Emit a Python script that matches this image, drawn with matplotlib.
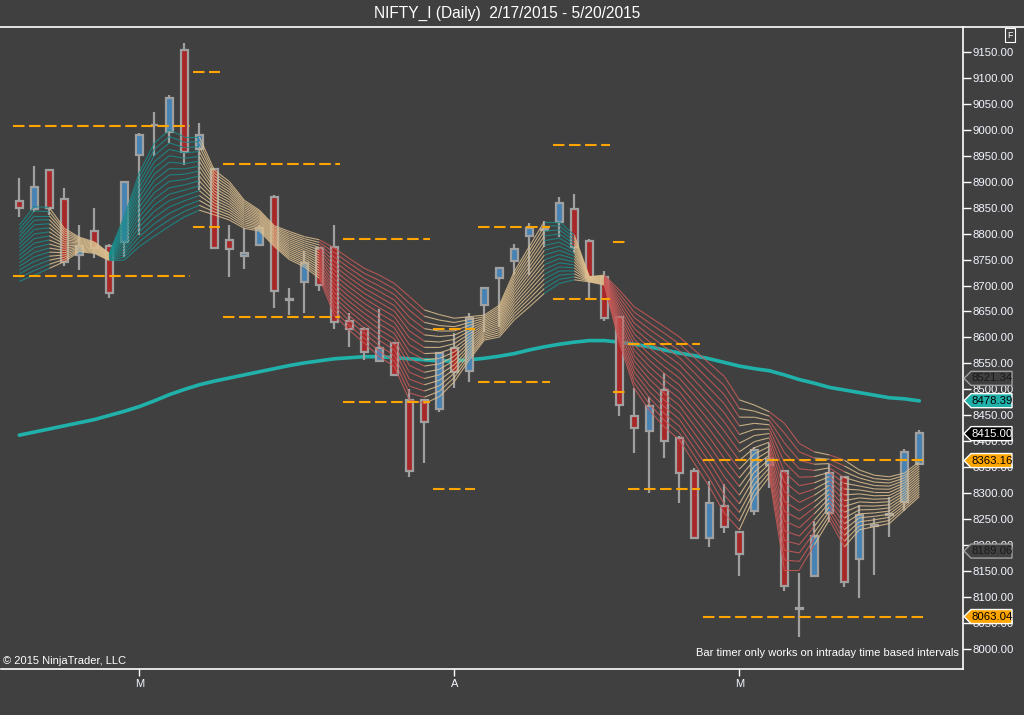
import matplotlib
matplotlib.use('Agg')
import matplotlib.pyplot as plt
from matplotlib.collections import LineCollection
from matplotlib.patches import Polygon
from matplotlib.lines import Line2D

plt.rcParams['font.family'] = ['Liberation Sans', 'DejaVu Sans']

# daily OHLC, one entry per bar (61 bars, 2/17/2015 - 5/20/2015)
opens = [8863, 8847, 8922, 8866, 8758, 8805, 8776, 8784, 8951, 9008,
         8996, 9153, 8962, 8924, 8788, 8757, 8778, 8871, 8672, 8707,
         8772, 8774, 8632, 8616, 8555, 8590, 8480, 8480, 8462, 8580,
         8535, 8662, 8715, 8747, 8795, 8806, 8823, 8847, 8786, 8717,
         8639, 8448, 8420, 8498, 8407, 8344, 8214, 8276, 8226, 8266,
         8355, 8343, 8077, 8141, 8262, 8332, 8174, 8238, 8259, 8284,
         8357]
highs = [8906, 8930, 8924, 8887, 8816, 8850, 8779, 8902, 8994, 9033,
         9066, 9166, 9013, 8927, 8816, 8810, 8816, 8874, 8695, 8767,
         8774, 8816, 8648, 8621, 8654, 8592, 8500, 8482, 8573, 8608,
         8647, 8698, 8735, 8779, 8821, 8824, 8871, 8876, 8789, 8727,
         8641, 8502, 8485, 8531, 8410, 8348, 8323, 8319, 8228, 8390,
         8396, 8345, 8147, 8246, 8356, 8334, 8278, 8252, 8294, 8385,
         8422]
lows = [8832, 8842, 8836, 8738, 8730, 8752, 8675, 8755, 8797, 8949,
        8975, 8932, 8884, 8770, 8717, 8731, 8776, 8656, 8643, 8648,
        8690, 8616, 8581, 8557, 8553, 8525, 8331, 8359, 8456, 8502,
        8515, 8611, 8621, 8720, 8720, 8775, 8794, 8762, 8675, 8632,
        8448, 8378, 8301, 8369, 8282, 8212, 8196, 8223, 8141, 8258,
        8311, 8113, 8023, 8140, 8244, 8120, 8098, 8143, 8217, 8267,
        8355]
closes = [8849, 8890, 8850, 8746, 8776, 8772, 8686, 8900, 8990, 9009,
          9061, 8956, 8990, 8773, 8770, 8762, 8810, 8690, 8674, 8743,
          8701, 8630, 8616, 8573, 8580, 8528, 8343, 8438, 8571, 8534,
          8638, 8695, 8733, 8770, 8811, 8808, 8859, 8774, 8714, 8637,
          8470, 8426, 8469, 8401, 8340, 8214, 8281, 8235, 8183, 8383,
          8366, 8122, 8079, 8218, 8340, 8130, 8258, 8240, 8261, 8380,
          8417]

# slow moving average (teal line)
sma = [8412, 8418, 8424, 8430, 8436, 8442, 8450, 8458, 8467, 8478,
       8490, 8500, 8509, 8516, 8522, 8528, 8534, 8540, 8546, 8551,
       8555, 8559, 8561, 8563, 8563, 8561, 8559, 8557, 8555, 8555,
       8557, 8560, 8564, 8569, 8576, 8582, 8587, 8591, 8594, 8594,
       8591, 8587, 8582, 8576, 8570, 8565, 8559, 8552, 8545, 8540,
       8536, 8528, 8519, 8512, 8504, 8499, 8494, 8489, 8484, 8482,
       8478]

# moving-average ribbon: upper and lower edge per bar
ribbon_top = [8816, 8852, 8850, 8810, 8793, 8784, 8762, 8833, 8917, 8974,
              8999, 8986, 8986, 8922, 8900, 8864, 8845, 8815, 8804, 8794,
              8788, 8772, 8752, 8733, 8720, 8704, 8679, 8653, 8644, 8637,
              8640, 8643, 8662, 8727, 8775, 8823, 8823, 8797, 8717, 8720,
              8691, 8659, 8640, 8621, 8601, 8576, 8550, 8525, 8480, 8470,
              8457, 8435, 8396, 8380, 8374, 8364, 8345, 8335, 8332, 8339,
              8361]
ribbon_bot = [8708, 8720, 8733, 8746, 8765, 8762, 8748, 8749, 8775, 8795,
              8814, 8832, 8845, 8836, 8826, 8810, 8805, 8775, 8750, 8736,
              8714, 8643, 8614, 8589, 8563, 8544, 8480, 8473, 8486, 8515,
              8557, 8595, 8601, 8634, 8659, 8685, 8704, 8711, 8707, 8701,
              8590, 8502, 8460, 8428, 8403, 8358, 8313, 8262, 8230, 8294,
              8332, 8153, 8153, 8201, 8249, 8197, 8230, 8236, 8242, 8268,
              8294]
# trend state of each ribbon segment (between bar i and i+1)
ribbon_trend = (['up'] * 2 + ['flat'] * 4 + ['up'] * 6 + ['flat'] * 8 +
                ['down'] * 7 + ['flat'] * 8 + ['up'] * 2 + ['flat'] * 2 +
                ['down'] * 9 + ['flat'] * 2 + ['down'] * 3 + ['flat'] +
                ['down'] + ['flat'] * 5)

# period high / low levels: (first bar, last bar, high, low)
level_start = [0, 12, 14, 22, 28, 31, 36, 40, 41, 46]
level_end = [11, 13, 21, 27, 30, 35, 39, 40, 45, 60]
level_high = [9007, 9110, 8934, 8790, 8616, 8813, 8971, 8784, 8587, 8364]
level_low = [8718, 8813, 8640, 8475, 8308, 8514, 8674, 8496, 8308, 8063]

# right-hand price markers
tag_values = [8521.34, 8478.39, 8415.00, 8363.16, 8189.06, 8063.04]
tag_faces = ['#404040', '#20b2aa', '#000000', '#ffa500', '#404040', '#ffa500']
tag_edges = ['#a0a0a0', '#ffffff', '#ffffff', '#ffffff', '#a0a0a0', '#ffffff']
tag_text = ['#1a1a1a', '#000000', '#ffffff', '#000000', '#1a1a1a', '#000000']

month_pos = [8, 29, 48]
month_lbl = ['M', 'A', 'M']

BG = '#404040'
n = len(closes)
xs = list(range(n))

fig = plt.figure(figsize=(10.24, 7.15), dpi=100, facecolor=BG)
ax = fig.add_axes([1 / 1024, 1 - 669 / 715, 962 / 1024, 642 / 715])
ax.set_facecolor(BG)
ax.set_xlim(-1.22, 62.91)
ax.set_ylim(7962.1, 9197.4)

# teal SMA
ax.plot(xs, sma, color='#20b2aa', lw=2.6, zorder=2, solid_capstyle='round')

# candles
for i in xs:
    o, h, l, c = opens[i], highs[i], lows[i], closes[i]
    ax.vlines(i, l, h, color='#a0a0a0', lw=1.6, zorder=3)
    col = '#4682b4' if c >= o else '#a8282a'
    lo, hi = min(o, c), max(o, c)
    ax.bar(i, max(hi - lo, 1.5), bottom=lo, width=0.45, color=col,
           edgecolor='#a0a0a0', linewidth=1.6, zorder=4)

# ribbon
trend_col = {'up': '#1a8c8c', 'flat': '#dcbf8f', 'down': '#c85a58'}
nlines = 16
segs, cols = [], []
for i in range(n - 1):
    for k in range(nlines):
        f = k / (nlines - 1)
        y0 = ribbon_bot[i] + (ribbon_top[i] - ribbon_bot[i]) * f
        y1 = ribbon_bot[i + 1] + (ribbon_top[i + 1] - ribbon_bot[i + 1]) * f
        segs.append([(i, y0), (i + 1, y1)])
        cols.append(trend_col[ribbon_trend[i]])
ax.add_collection(LineCollection(segs, colors=cols, linewidths=0.8,
                                 alpha=0.85, zorder=5))

# orange levels
for s, e, hv, lv in zip(level_start, level_end, level_high, level_low):
    for v in (hv, lv):
        ax.plot([s - 0.4, e + 0.4], [v, v], color='#ffa500', lw=1.5,
                linestyle=(0, (5.5, 2.2)), zorder=6)

# axes styling
for side in ('left', 'top'):
    ax.spines[side].set_visible(False)
for side in ('right', 'bottom'):
    ax.spines[side].set_color('white')
    ax.spines[side].set_linewidth(1.2)
ax.yaxis.tick_right()
yt = list(range(8000, 9151, 50))
ax.set_yticks(yt)
ax.set_yticklabels(['%.2f' % v for v in yt])
ax.tick_params(axis='y', colors='white', labelcolor='#f4f6ff', length=6,
               width=1, labelsize=8.2, pad=1)
ax.set_xticks(month_pos)
ax.set_xticklabels(month_lbl)
ax.tick_params(axis='x', colors='white', labelcolor='#f4f6ff', length=5,
               width=1, labelsize=8, pad=2)

# price tags on the axis
pw = 1 / 962
th = 13.5
ytr = ax.get_yaxis_transform()
for v, fc, ec, tc in zip(tag_values, tag_faces, tag_edges, tag_text):
    pts = [(1 + pw, v), (1 + 8 * pw, v + th), (1 + 49 * pw, v + th),
           (1 + 49 * pw, v - th), (1 + 8 * pw, v - th)]
    ax.add_patch(Polygon(pts, closed=True, facecolor=fc, edgecolor=ec,
                         lw=1, transform=ytr, clip_on=False, zorder=10))
    ax.text(1 + 9 * pw, v, '%.2f' % v, transform=ytr, color=tc, fontsize=8.2,
            va='center', ha='left', clip_on=False, zorder=11)

# frame line across the top
fig.add_artist(Line2D([0, 1], [1 - 27 / 715] * 2, transform=fig.transFigure,
                      color='white', lw=1.2))

fig.text(507 / 1024, 1 - 13 / 715, 'NIFTY_I (Daily)  2/17/2015 - 5/20/2015',
         color='white', fontsize=11.2, ha='center', va='center')
fig.text(1010 / 1024, 1 - 35 / 715, 'F', color='white', fontsize=6.5,
         ha='center', va='center',
         bbox=dict(boxstyle='square,pad=0.25', fc=BG, ec='white', lw=0.8))
ax.text(0.002, 0.004, '\u00a9 2015 NinjaTrader, LLC', transform=ax.transAxes,
        color='white', fontsize=8, ha='left', va='bottom')
ax.text(0.9956, 0.017, 'Bar timer only works on intraday time based intervals',
        transform=ax.transAxes, color='white', fontsize=8, ha='right',
        va='bottom')

fig.savefig('out.png', dpi=100, facecolor=BG)
plt.close(fig)
